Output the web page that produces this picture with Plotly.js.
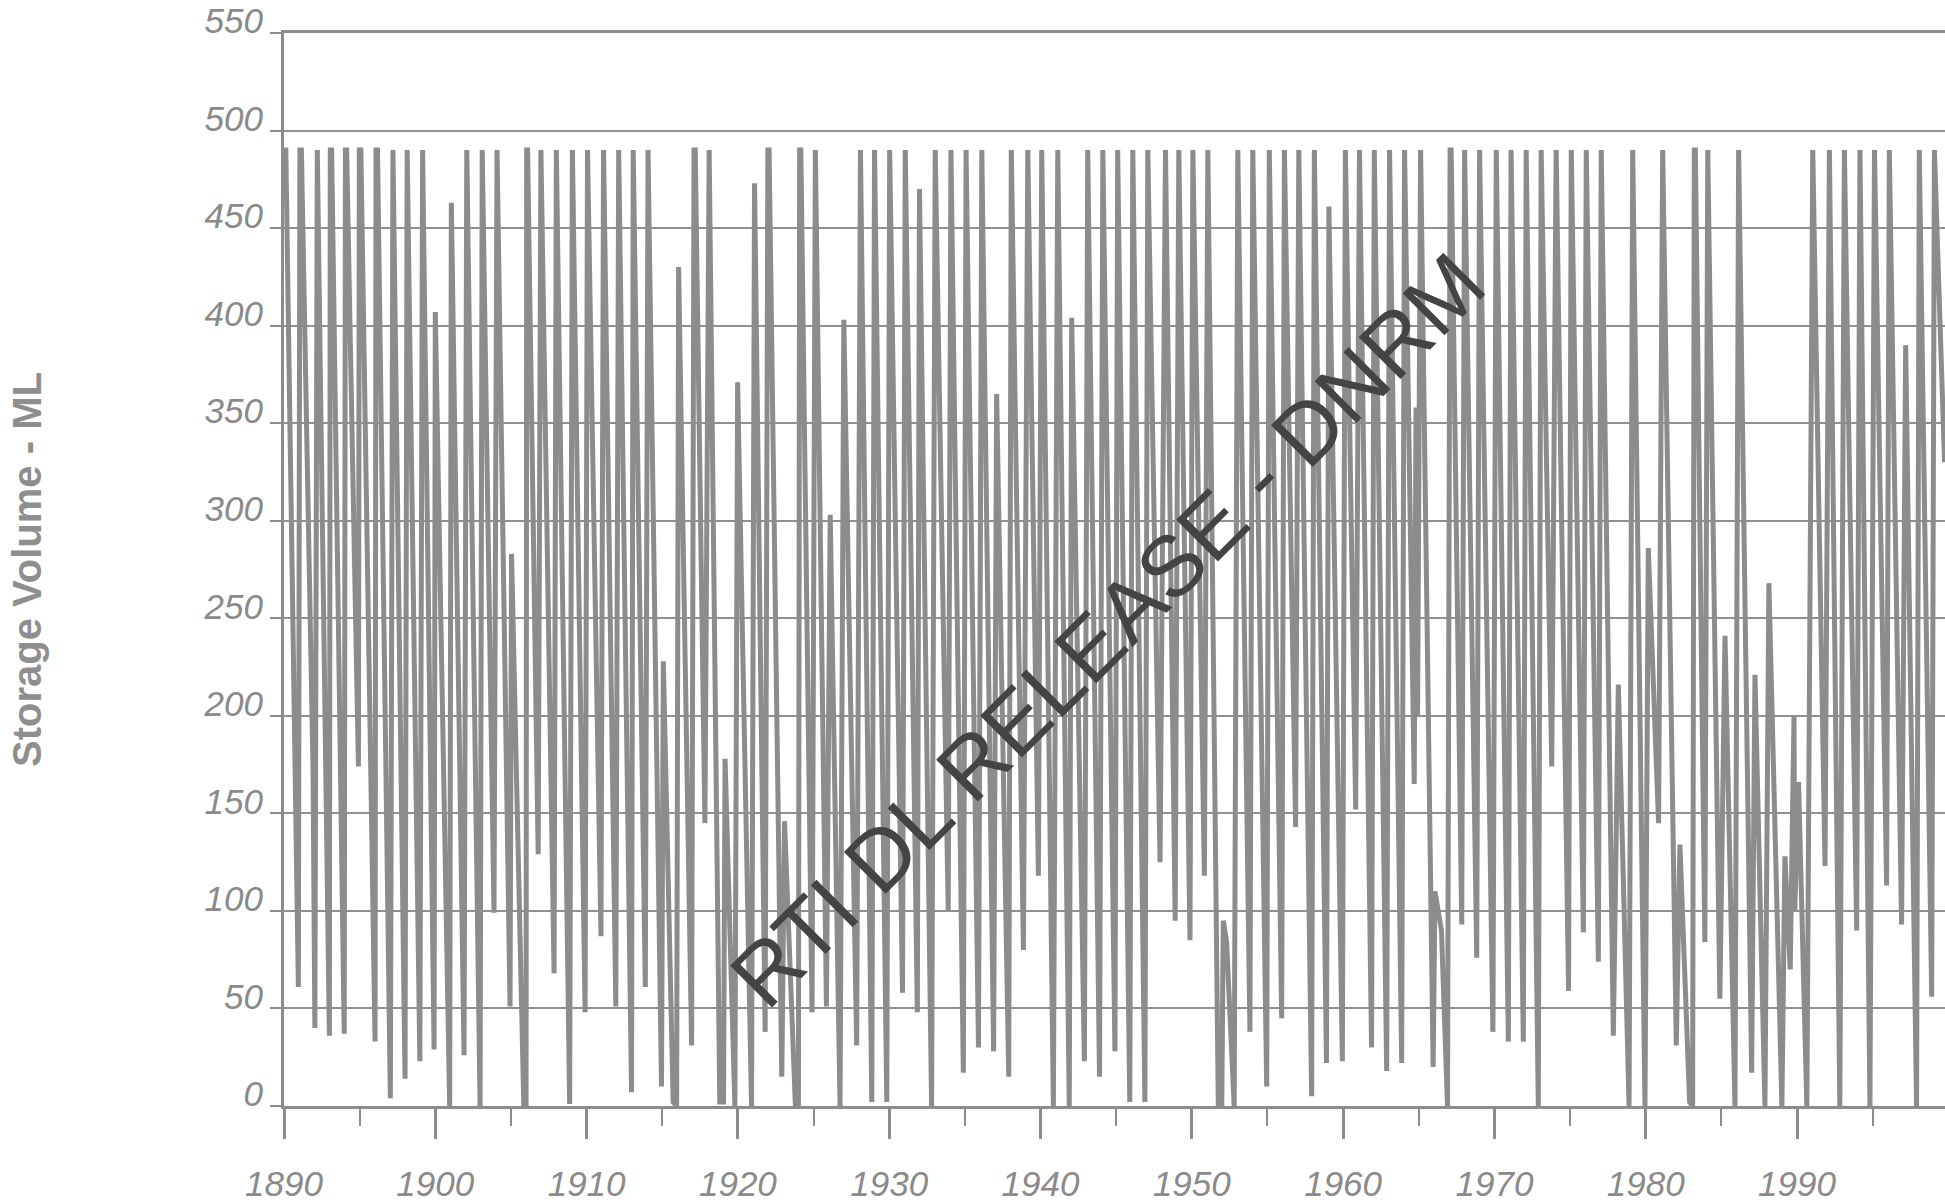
<!DOCTYPE html>
<html>
<head>
<meta charset="utf-8">
<script src="https://cdn.plot.ly/plotly-3.0.1.min.js"></script>
<style>
  html, body { margin: 0; padding: 0; background: #ffffff; }
  #chart { width: 1945px; height: 1202px; }
</style>
</head>
<body>
<div id="chart"></div>
<script>
// Storage volume (ML) turning points: [decimal year, volume]
const obs1890_1908 = [
  [1890.00,490],[1890.12,490],[1890.95,61],[1891.05,490],[1891.15,490],[1891.92,172],[1892.04,40],
  [1892.12,490],[1892.20,490],[1893.00,36],[1893.06,490],[1893.15,490],[1893.98,37],[1894.06,490],
  [1894.14,490],[1894.92,174],[1894.98,490],[1895.08,490],[1896.02,33],[1896.08,490],[1896.18,490],
  [1897.03,4],[1897.12,490],[1897.20,490],[1898.00,14],[1898.06,490],[1898.14,490],[1898.98,23],
  [1899.08,490],[1899.16,490],[1899.92,29],[1900.00,407],[1900.95,0],[1901.06,463],[1901.90,26],
  [1902.00,490],[1902.08,490],[1902.96,0],[1903.02,490],[1903.10,490],[1903.88,99],[1904.00,490],
  [1904.08,490],[1904.94,51],[1905.04,283],[1905.85,0],[1906.00,0],[1906.04,490],[1906.10,490],
  [1906.80,129],[1906.90,490],[1906.98,490],[1907.85,68],[1907.92,490],[1908.00,490]
];
const obs1908_1926 = [
  [1908.88,1],[1908.98,490],[1909.06,490],[1909.90,48],[1909.98,490],[1910.06,490],[1910.95,87],
  [1911.05,490],[1911.12,490],[1911.93,51],[1912.04,490],[1912.12,490],[1912.97,7],[1913.00,490],
  [1913.08,490],[1913.88,61],[1913.98,490],[1914.06,490],[1914.95,10],[1915.07,228],[1915.72,2],
  [1915.95,0],[1916.08,430],[1916.94,31],[1917.10,490],[1917.18,490],[1917.82,145],[1918.02,490],
  [1918.10,490],[1918.80,2],[1919.05,2],[1919.15,178],[1919.80,0],[1919.98,371],[1920.90,0],
  [1921.10,473],[1921.80,38],[1921.98,490],[1922.06,490],[1922.90,15],[1923.08,146],[1923.80,0],
  [1924.00,0],[1924.08,490],[1924.16,490],[1924.90,48],[1925.04,490],[1925.12,490],[1925.85,51],
  [1926.10,303]
];
const obs1926_1944 = [
  [1926.75,0],[1927.00,403],[1927.85,31],[1928.03,490],[1928.10,490],[1928.85,2],[1928.95,490],
  [1929.03,490],[1929.84,2],[1929.95,490],[1930.03,490],[1930.88,58],[1930.98,490],[1931.06,490],
  [1931.86,48],[1932.00,470],[1932.80,0],[1932.96,490],[1933.04,490],[1933.90,100],[1934.00,490],
  [1934.08,490],[1934.90,17],[1935.00,490],[1935.08,490],[1935.90,30],[1936.05,490],[1936.12,490],
  [1936.90,28],[1937.10,365],[1937.90,15],[1937.99,490],[1938.07,490],[1938.87,80],[1939.09,490],
  [1939.16,490],[1939.86,118],[1940.00,490],[1940.08,490],[1940.85,0],[1941.07,490],[1941.14,490],
  [1941.90,0],[1942.06,404],[1942.90,23],[1943.05,490],[1943.12,490],[1943.90,15],[1944.04,490],
  [1944.12,490]
];
const obs1944_1962 = [
  [1944.92,28],[1945.03,490],[1945.10,490],[1945.90,2],[1946.02,490],[1946.10,490],[1946.90,2],
  [1947.01,490],[1947.09,490],[1947.90,125],[1948.18,490],[1948.26,490],[1948.90,95],[1949.06,490],
  [1949.14,490],[1949.88,85],[1949.99,490],[1950.07,490],[1950.83,118],[1950.98,490],[1951.06,490],
  [1951.75,0],[1951.98,0],[1952.08,95],[1952.30,84],[1952.80,0],[1952.96,490],[1953.04,490],
  [1953.84,38],[1953.95,490],[1954.03,490],[1954.95,10],[1955.05,490],[1955.12,490],[1955.94,45],
  [1956.05,490],[1956.12,490],[1956.86,143],[1956.99,490],[1957.07,490],[1957.92,5],[1958.03,490],
  [1958.10,490],[1958.90,22],[1959.06,461],[1959.95,23],[1960.08,490],[1960.15,490],[1960.83,152],
  [1961.00,490],[1961.08,490],[1961.88,30],[1962.00,490],[1962.06,490]
];
const obs1962_1980 = [
  [1962.88,18],[1962.99,490],[1963.07,490],[1963.87,22],[1963.98,490],[1964.06,490],[1964.70,165],
  [1964.82,358],[1964.92,200],[1965.04,490],[1965.12,490],[1965.95,20],[1966.07,110],[1966.50,90],
  [1966.90,0],[1967.07,490],[1967.14,490],[1967.84,93],[1967.95,490],[1968.03,490],[1968.83,76],
  [1968.94,490],[1969.02,490],[1969.90,38],[1970.04,490],[1970.12,490],[1970.92,33],[1971.03,490],
  [1971.10,490],[1971.91,33],[1972.02,490],[1972.10,490],[1972.90,0],[1973.01,490],[1973.09,490],
  [1973.79,174],[1974.00,490],[1974.08,490],[1974.90,59],[1975.00,490],[1975.08,490],[1975.88,89],
  [1975.99,490],[1976.07,490],[1976.87,74],[1976.98,490],[1977.06,490],[1977.86,36],[1978.19,216],
  [1978.90,0],[1979.07,490],[1979.14,490],[1979.95,0],[1980.17,286]
];
const obs1980_1999 = [
  [1980.85,145],[1981.05,490],[1981.12,490],[1982.02,31],[1982.26,134],[1982.90,2],[1983.10,0],
  [1983.21,490],[1983.28,490],[1983.91,84],[1984.02,490],[1984.10,490],[1984.90,55],[1985.24,241],
  [1985.90,0],[1986.07,490],[1986.14,490],[1987.00,17],[1987.22,221],[1987.88,0],[1988.14,268],
  [1989.00,0],[1989.20,128],[1989.55,70],[1989.80,200],[1989.85,100],[1990.10,166],[1990.65,0],
  [1990.96,490],[1991.04,490],[1991.85,123],[1992.07,490],[1992.14,490],[1992.83,0],[1993.06,490],
  [1993.13,490],[1993.94,90],[1994.09,490],[1994.16,490],[1994.82,0],[1995.04,490],[1995.12,490],
  [1995.92,113],[1996.03,490],[1996.10,490],[1996.91,93],[1997.18,390],[1997.90,0],[1998.01,490],
  [1998.08,490],[1998.90,56],[1999.00,490],[1999.08,490],[1999.75,330]
];

const yTicks = [0, 50, 100, 150, 200, 250, 300, 350, 400, 450, 500, 550];
const xTicks = [1890, 1900, 1910, 1920, 1930, 1940, 1950, 1960, 1970, 1980, 1990];
const yTitle = "Storage Volume - ML";
const watermark = "RTI DL RELEASE - DNRM";

const allObs = [].concat(obs1890_1908, obs1908_1926, obs1926_1944,
                         obs1944_1962, obs1962_1980, obs1980_1999);
const years = allObs.map(p => p[0]);
const volumes = allObs.map(p => p[1]);

const GREY = '#8c8c8c';
const tickFont = { family: 'Liberation Sans, Arial, sans-serif', size: 35, color: '#8a8a8a', style: 'italic' };

const trace = {
  type: 'scatter',
  mode: 'lines',
  x: years,
  y: volumes,
  line: { color: GREY, width: 5 },
  hoverinfo: 'skip'
};

const layout = {
  width: 1945,
  height: 1202,
  margin: { l: 284, r: 0, t: 33, b: 96, pad: 0 },
  paper_bgcolor: '#ffffff',
  plot_bgcolor: '#ffffff',
  showlegend: false,
  xaxis: {
    range: [1890, 1999.78],
    tickvals: xTicks,
    ticktext: xTicks.map(String),
    ticks: 'outside',
    ticklen: 30,
    tickwidth: 3,
    tickcolor: GREY,
    minor: { dtick: 5, tick0: 1890, ticks: 'outside', ticklen: 17, tickwidth: 2, tickcolor: GREY, showgrid: false },
    showgrid: false,
    zeroline: false,
    showline: true,
    mirror: true,
    linecolor: GREY,
    linewidth: 3,
    tickfont: tickFont,
    ticklabelstandoff: 15
  },
  yaxis: {
    range: [0, 550],
    tickvals: yTicks,
    ticktext: yTicks.map(String),
    ticks: 'outside',
    ticklen: 11,
    tickwidth: 2,
    tickcolor: GREY,
    showgrid: true,
    gridcolor: '#909090',
    gridwidth: 2,
    zeroline: false,
    showline: true,
    linecolor: GREY,
    linewidth: 3,
    tickfont: tickFont,
    ticklabelshift: -12,
    ticklabelstandoff: 0,
    title: {
      text: '<b>' + yTitle + '</b>',
      font: { family: 'Liberation Sans, Arial, sans-serif', size: 40, color: '#8e8e8e' },
      standoff: 150
    }
  },
  annotations: [{
    x: 1944.4,
    y: 244,
    xref: 'x',
    yref: 'y',
    text: watermark,
    showarrow: false,
    textangle: -45,
    font: { family: 'Liberation Sans, Arial, sans-serif', size: 86, color: '#444444' },
    xanchor: 'center',
    yanchor: 'middle'
  }]
};

Plotly.newPlot('chart', [trace], layout, { staticPlot: true, displayModeBar: false });
</script>
</body>
</html>
